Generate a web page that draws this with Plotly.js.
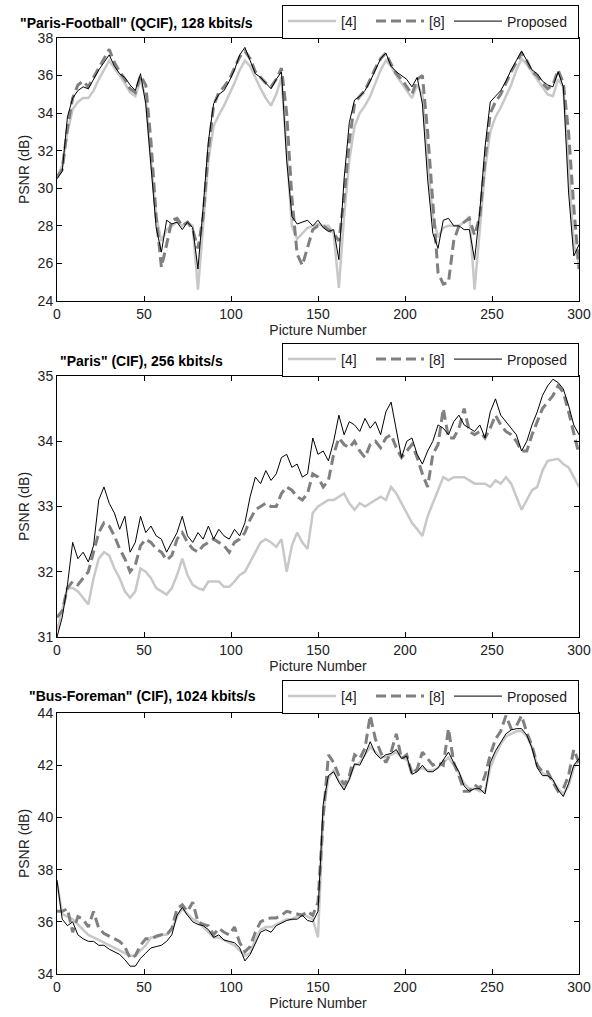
<!DOCTYPE html>
<html>
<head>
<meta charset="utf-8">
<script src="https://cdn.plot.ly/plotly-3.0.1.min.js"></script>
<style>html,body{margin:0;padding:0;background:#fff;}#chart{width:592px;height:1017px;}</style>
</head>
<body>
<div id="chart"></div>
<script>
// Picture numbers (sampled every 3 pictures)
const frames = [0,3,6,9,12,15,18,21,24,27,30,33,36,39,42,45,48,51,54,57,60,63,66,69,72,75,78,81,84,87,90,93,96,99,102,105,108,111,114,117,120,123,126,129,132,135,138,141,144,147,150,153,156,159,162,165,168,171,174,177,180,183,186,189,192,195,198,201,204,207,210,213,216,219,222,225,228,231,234,237,240,243,246,249,252,255,258,261,264,267,270,273,276,279,282,285,288,291,294,297,300];

const seriesNames = ['[4]', '[8]', 'Proposed'];
const panelTitles = ['"Paris-Football" (QCIF), 128 kbits/s', '"Paris" (CIF), 256 kbits/s', '"Bus-Foreman" (CIF), 1024 kbits/s'];
const xTitle = 'Picture Number';
const yTitle = 'PSNR (dB)';

// Panel 1: "Paris-Football" (QCIF), 128 kbits/s
const pf_ref4 = [30.6,31.2,33.0,34.2,34.6,34.8,34.8,35.2,35.8,36.3,
36.8,36.4,36.0,35.6,35.1,34.9,35.8,34.8,31.5,28.5,
27.2,27.8,28.0,28.2,28.0,28.2,28.0,24.6,28.0,31.5,
33.3,33.9,34.4,35.0,35.6,36.3,36.8,36.5,35.9,35.3,
34.8,34.4,35.0,35.9,32.0,28.0,27.3,27.6,27.9,28.0,
28.1,28.0,28.0,27.6,24.7,28.5,31.5,33.3,34.0,34.4,
34.9,35.6,36.3,36.8,36.5,36.0,35.6,35.2,34.8,35.5,
35.0,31.5,28.5,27.4,27.9,28.0,28.0,28.0,28.2,28.5,
24.6,28.0,31.0,33.0,33.8,34.3,34.9,35.5,36.3,36.9,
36.6,36.2,35.8,35.4,35.0,34.9,35.8,35.4,31.0,27.0,
26.0];
const pf_ref8 = [30.6,31.0,33.2,34.8,35.5,35.7,35.4,35.9,36.4,36.9,
37.4,36.7,36.2,35.8,35.3,35.1,36.0,35.5,32.5,28.5,
25.8,27.0,28.3,28.4,28.0,28.2,27.8,26.8,28.5,32.0,
34.4,35.1,35.4,35.8,36.4,37.0,37.3,36.9,36.2,35.9,
35.6,35.4,35.8,36.4,34.0,29.5,26.5,25.9,26.8,27.8,
28.0,28.0,27.8,27.6,27.2,29.5,32.5,34.5,34.9,35.2,
35.8,36.4,36.9,37.2,36.6,36.1,35.8,35.4,35.0,35.8,
36.0,33.0,29.5,25.5,24.9,25.0,27.2,28.0,28.2,28.4,
27.5,28.5,31.5,34.0,34.6,35.0,35.6,36.2,36.7,37.2,
36.8,36.2,36.0,35.6,35.3,35.5,36.3,35.6,33.0,29.0,
25.7];
const pf_prop = [30.5,30.9,33.8,34.8,35.2,35.4,35.3,35.8,36.3,36.7,
37.1,36.5,36.1,35.9,35.5,35.2,36.1,34.5,31.0,27.9,
26.6,28.3,28.1,28.2,27.8,28.2,27.9,25.7,29.0,32.5,
34.5,35.0,35.2,35.7,36.3,37.1,37.5,36.8,36.1,35.9,
35.6,35.3,35.8,36.2,31.5,28.5,28.1,28.2,28.3,28.0,
28.3,27.9,27.7,27.8,26.2,30.5,33.5,34.7,34.9,35.2,
35.7,36.3,36.9,37.2,36.5,36.2,36.0,35.8,35.4,35.9,
34.5,30.5,27.6,26.8,28.3,28.4,28.0,28.0,27.8,27.8,
26.2,28.8,32.2,34.6,34.9,35.2,35.7,36.3,36.8,37.3,
36.8,36.3,36.1,35.7,35.5,35.4,36.2,35.4,29.8,26.4,
27.0];

// Panel 2: "Paris" (CIF), 256 kbits/s
const pa_ref4 = [31.1,31.4,31.75,31.75,31.7,31.6,31.5,31.9,32.2,32.3,
32.25,32.05,31.9,31.7,31.6,31.7,32.05,32.0,31.9,31.75,
31.7,31.65,31.75,31.95,32.2,31.95,31.8,31.75,31.72,31.85,
31.85,31.85,31.77,31.77,31.85,31.95,32.0,32.15,32.3,32.45,
32.5,32.45,32.38,32.5,32.0,32.4,32.6,32.45,32.35,32.9,
33.0,33.05,33.1,33.1,33.15,33.2,33.05,32.95,33.05,33.0,
33.05,33.1,33.15,33.1,33.3,33.2,33.05,32.9,32.75,32.65,
32.55,32.85,33.05,33.25,33.45,33.4,33.45,33.45,33.45,33.4,
33.35,33.35,33.35,33.3,33.4,33.35,33.45,33.35,33.15,32.95,
33.1,33.25,33.3,33.55,33.7,33.72,33.73,33.65,33.6,33.45,
33.3];
const pa_ref8 = [31.3,31.4,31.75,31.85,31.8,31.9,32.0,32.3,32.6,32.75,
32.7,32.55,32.35,32.2,32.0,32.1,32.4,32.5,32.45,32.35,
32.3,32.18,32.25,32.5,32.6,32.45,32.35,32.3,32.4,32.45,
32.5,32.45,32.4,32.3,32.45,32.5,32.6,32.8,32.95,33.0,
33.05,33.0,33.0,33.2,33.3,33.25,33.15,33.1,33.2,33.5,
33.45,33.3,33.4,33.8,34.05,33.95,33.9,34.0,33.85,33.75,
33.95,34.0,33.9,34.05,34.1,33.9,33.75,33.85,33.95,33.75,
33.5,33.3,33.8,33.95,34.5,34.05,34.05,34.2,34.5,34.15,
34.1,34.15,34.05,34.2,34.4,34.25,34.15,34.1,34.0,33.85,
33.85,34.1,34.3,34.5,34.6,34.7,34.85,34.75,34.45,34.1,
33.8];
const pa_prop = [31.0,31.3,31.8,32.45,32.2,32.3,32.15,32.4,33.1,33.3,
33.05,32.9,32.65,32.85,32.3,32.45,32.85,32.6,32.7,32.55,
32.5,32.3,32.45,32.6,32.85,32.55,32.45,32.6,32.5,32.7,
32.5,32.65,32.55,32.5,32.65,32.55,32.75,33.15,33.45,33.35,
33.55,33.4,33.5,33.75,33.8,33.6,33.65,33.45,33.5,34.05,
33.8,33.85,33.7,34.0,34.4,34.1,34.3,34.25,34.15,34.35,
34.2,34.3,34.1,34.45,34.6,34.2,33.75,34.0,34.05,33.8,
33.65,33.85,34.0,34.25,34.2,34.1,34.3,34.4,34.25,34.2,
34.15,34.25,34.05,34.45,34.65,34.4,34.3,34.2,34.1,33.85,
34.0,34.25,34.45,34.7,34.85,34.95,34.9,34.8,34.55,34.25,
34.1];

// Panel 3: "Bus-Foreman" (CIF), 1024 kbits/s
const bf_ref4 = [37.5,36.3,36.2,36.1,35.9,35.7,35.5,35.4,35.3,35.2,
35.1,35.0,34.9,34.8,34.7,34.7,34.9,35.1,35.4,35.4,
35.5,35.5,35.7,36.2,36.5,36.3,36.1,36.0,35.8,35.6,
35.4,35.4,35.3,35.2,35.1,34.9,34.7,34.8,35.3,35.7,
35.8,35.8,35.9,36.0,36.1,36.1,36.2,36.3,36.2,36.1,
35.4,40.2,41.5,41.8,41.4,41.1,41.5,42.0,42.1,42.4,
42.7,42.5,42.3,42.3,42.4,42.5,42.3,42.2,41.8,41.8,
41.9,41.8,41.8,41.9,42.1,42.3,42.0,41.7,41.3,41.1,
41.1,41.0,41.0,41.9,42.4,42.8,43.1,43.2,43.3,43.3,
43.1,42.7,42.0,41.7,41.6,41.4,41.1,40.9,41.2,41.9,
42.2];
const bf_ref8 = [36.4,36.4,36.5,35.6,36.2,36.1,35.8,36.4,35.75,35.55,
35.45,35.35,35.25,35.05,34.6,34.7,35.1,35.35,35.35,35.45,
35.5,35.5,35.75,36.5,36.65,36.4,36.75,36.0,35.9,35.85,
35.5,35.75,35.6,35.5,35.8,35.2,34.85,35.05,35.6,36.0,
36.1,36.15,36.15,36.25,36.4,36.35,36.3,36.25,36.4,36.25,
36.75,40.0,42.4,42.1,41.6,41.25,41.6,42.4,42.25,42.65,
43.9,43.0,42.5,42.1,42.5,43.2,42.25,42.4,41.65,41.85,
42.5,42.25,42.0,42.1,42.0,43.4,42.1,41.6,41.0,41.0,
41.25,41.1,41.6,42.4,43.0,43.3,43.9,43.4,43.5,43.9,
43.25,42.75,42.0,41.75,41.75,41.35,41.0,41.1,41.6,42.6,
42.1];
const bf_prop = [37.6,36.1,35.85,36.0,35.5,35.35,35.25,35.25,35.1,35.1,
34.95,34.85,34.75,34.55,34.3,34.3,34.6,34.8,35.0,35.05,
35.1,35.25,35.5,36.25,36.55,36.25,36.0,35.9,35.85,35.7,
35.4,35.5,35.3,35.25,35.2,35.0,34.5,34.75,35.2,35.6,
35.7,35.6,35.85,35.95,36.05,36.1,36.1,36.25,36.05,36.0,
36.4,40.5,41.6,41.75,41.35,41.05,41.45,42.05,42.0,42.4,
42.9,42.45,42.25,42.4,42.45,42.6,42.25,42.35,41.65,41.75,
42.0,41.75,41.75,41.9,42.2,42.5,42.1,41.75,41.2,41.0,
41.1,41.1,40.9,42.1,42.55,42.9,43.2,43.35,43.4,43.4,
43.15,42.65,41.9,41.6,41.6,41.45,41.05,40.8,41.3,42.0,
42.25];

const yRanges = [[24,38],[31,35],[34,44]];
const yDticks = [2,1,2];

const panels = [
  [pf_ref4, pf_ref8, pf_prop],
  [pa_ref4, pa_ref8, pa_prop],
  [bf_ref4, bf_ref8, bf_prop]
];

const styles = [
  {color:'#c8c8c8', width:2.5, dash:'solid'},
  {color:'#808080', width:3, dash:'10px,5px'},
  {color:'#000000', width:1, dash:'solid'}
];
const legendWidths = [25, 15, 66];

const traces = [];
panels.forEach(function(ser, p) {
  ser.forEach(function(vals, s) {
    traces.push({
      type:'scatter', mode:'lines',
      x: frames, y: vals,
      name: seriesNames[s],
      xaxis: p === 0 ? 'x' : 'x' + (p+1),
      yaxis: p === 0 ? 'y' : 'y' + (p+1),
      legend: p === 0 ? 'legend' : 'legend' + (p+1),
      legendwidth: legendWidths[s],
      line: styles[s],
      hoverinfo:'skip'
    });
  });
});

const H = 1017, W = 592;
const xDom = [57/W, 579/W];
const yDoms = [[1-301/H, 1-38/H], [1-637/H, 1-376/H], [1-974/H, 1-713/H]];
const legendBottoms = [38.5, 376.5, 713.5];
const titleYs = [23, 361, 696];
const titleXs = [18, 58, 27];

function axBase() {
  return {
    showline:true, linecolor:'#000', linewidth:1, mirror:'ticks',
    ticks:'inside', ticklen:5, tickcolor:'#000', tickwidth:1,
    showgrid:false, zeroline:false,
    tickfont:{size:14, color:'#222'}
  };
}

const layout = {
  width:W, height:H,
  margin:{l:0, r:0, t:0, b:0, pad:0},
  paper_bgcolor:'#fff', plot_bgcolor:'#fff',
  font:{family:'"Liberation Sans", Arial, sans-serif', size:14, color:'#222'},
  showlegend:true,
  annotations:[]
};

for (let p = 0; p < 3; p++) {
  const sx = p === 0 ? '' : String(p+1);
  const xa = axBase();
  Object.assign(xa, {domain:xDom, anchor:'y'+sx, range:[0,300], dtick:50, tick0:0,
    title:{text:xTitle, font:{size:14, color:'#222'}, standoff:4}});
  const ya = axBase();
  Object.assign(ya, {domain:yDoms[p], anchor:'x'+sx, range:yRanges[p], dtick:yDticks[p], tick0:yRanges[p][0],
    title:{text:yTitle, font:{size:14, color:'#222'}, standoff:4}});
  layout['xaxis'+sx] = xa;
  layout['yaxis'+sx] = ya;
  layout[p === 0 ? 'legend' : 'legend'+(p+1)] = {
    orientation:'h', x:282/W, xanchor:'left', y:1-legendBottoms[p]/H, yanchor:'bottom',
    bordercolor:'#000', borderwidth:1, bgcolor:'#fff',
    font:{size:14, color:'#222'}, itemwidth:48, entrywidthmode:'pixels',
    traceorder:'normal', itemclick:false, itemdoubleclick:false
  };
  layout.annotations.push({
    text:'<b>'+panelTitles[p]+'</b>', xref:'paper', yref:'paper',
    x:titleXs[p]/W, y:1-titleYs[p]/H, xanchor:'left', yanchor:'middle',
    showarrow:false, font:{size:14, color:'#000'}
  });
}

Plotly.newPlot('chart', traces, layout, {staticPlot:true, displayModeBar:false});
</script>
</body>
</html>
